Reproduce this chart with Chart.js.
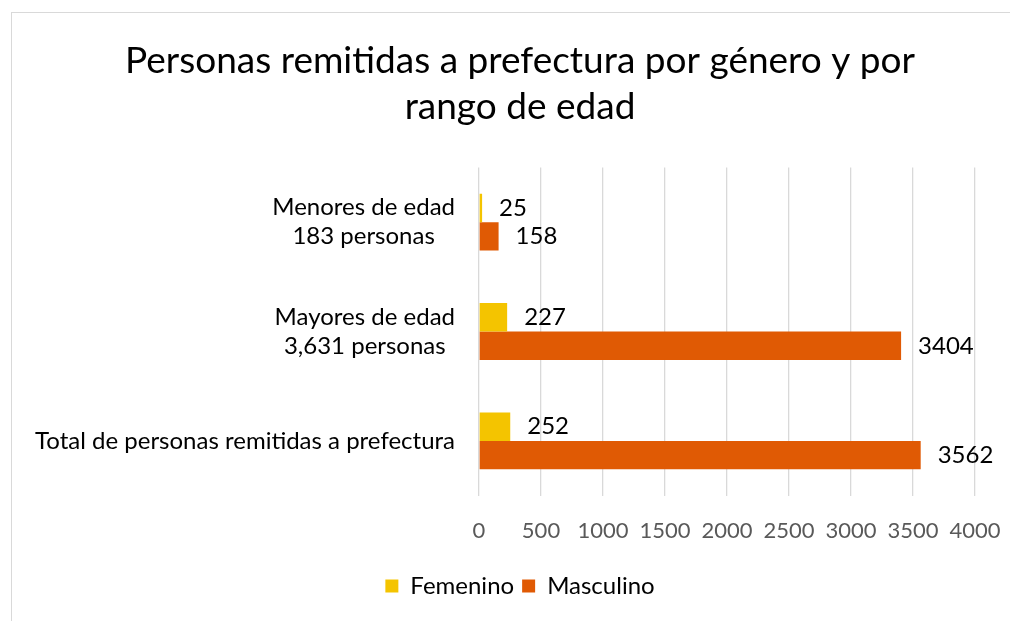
<!DOCTYPE html>
<html>
<head>
<meta charset="utf-8">
<script src="https://cdn.jsdelivr.net/npm/chart.js@4/dist/chart.umd.min.js"></script>
<style>
    body { margin: 0; background: #fff; }
    #wrap { position: relative; width: 1010px; height: 621px; overflow: hidden; }
    #frame { position: absolute; left: 11px; top: 12px; width: 1100px; height: 700px;
             border-left: 1.5px solid #d9d9d9; border-top: 1.5px solid #d9d9d9; }
    canvas { position: absolute; left: 0; top: 0; }
</style>
</head>
<body>
<div id="wrap">
    <div id="frame"></div>
    <canvas id="statsChart" width="1010" height="621"></canvas>
</div>
<script>
const categories = [
    ['Menores de edad', '183 personas'],
    ['Mayores de edad', '3,631 personas'],
    ['Total de personas remitidas a prefectura']
];
const femenino = [25, 227, 252];
const masculino = [158, 3404, 3562];
const xTicks = [0, 500, 1000, 1500, 2000, 2500, 3000, 3500, 4000];

const FONT = 'Lato, "Open Sans", sans-serif';

// Category labels: each label's lines centred on each other, block right-aligned
const categoryLabels = {
    id: 'categoryLabels',
    afterDraw(chart) {
        const ctx = chart.ctx;
        const yScale = chart.scales.y;
        const right = chart.chartArea.left - 24;
        ctx.save();
        ctx.font = '24px ' + FONT;
        ctx.fillStyle = '#000';
        ctx.textAlign = 'center';
        ctx.textBaseline = 'middle';
        categories.forEach((lines, i) => {
            const cy = yScale.getPixelForValue(i);
            const maxW = Math.max(...lines.map(l => ctx.measureText(l).width));
            const cx = right - maxW / 2;
            const lh = 29;
            const top = cy - (lines.length - 1) * lh / 2;
            lines.forEach((l, j) => ctx.fillText(l, cx, top + j * lh));
        });
        ctx.restore();
    }
};

// Value labels at the end of each bar
const valueLabels = {
    id: 'valueLabels',
    afterDatasetsDraw(chart) {
        const ctx = chart.ctx;
        ctx.save();
        ctx.font = '24px ' + FONT;
        ctx.fillStyle = '#000';
        ctx.textAlign = 'left';
        ctx.textBaseline = 'middle';
        chart.data.datasets.forEach((ds, di) => {
            chart.getDatasetMeta(di).data.forEach((bar, i) => {
                ctx.fillText(String(ds.data[i]), bar.x + 17, bar.y);
            });
        });
        ctx.restore();
    }
};

new Chart(document.getElementById('statsChart'), {
    type: 'bar',
    data: {
        labels: categories,
        datasets: [
            { label: 'Femenino', data: femenino, backgroundColor: '#F4C400' },
            { label: 'Masculino', data: masculino, backgroundColor: '#E05A04' }
        ]
    },
    options: {
        indexAxis: 'y',
        responsive: false,
        animation: false,
        events: [],
        layout: { padding: { left: 30, right: 0, top: 12, bottom: 13 } },
        datasets: { bar: { barPercentage: 1, categoryPercentage: 0.52 } },
        scales: {
            x: {
                min: 0,
                max: 4000,
                afterBuildTicks(scale) {
                    scale.ticks = xTicks.map(v => ({ value: v }));
                },
                afterFit(scale) { scale.paddingRight = 35; },
                grid: { color: '#d9d9d9', lineWidth: 1.3, drawTicks: false },
                border: { display: false },
                ticks: {
                    padding: 22,
                    color: '#595959',
                    font: { family: FONT, size: 22 },
                    callback: v => String(v)
                }
            },
            y: {
                grid: { display: false },
                border: { display: false },
                ticks: { display: false },
                afterFit(scale) { scale.width = 449; }
            }
        },
        plugins: {
            title: {
                display: true,
                text: ['Personas remitidas a prefectura por género y por', 'rango de edad'],
                color: '#000',
                font: { family: FONT, size: 37, weight: 'normal', lineHeight: 1.25 },
                padding: { top: 26, bottom: 37 }
            },
            legend: {
                position: 'bottom',
                labels: {
                    boxWidth: 13,
                    boxHeight: 13,
                    padding: 8,
                    color: '#000',
                    font: { family: FONT, size: 24 }
                }
            },
            tooltip: { enabled: false }
        }
    },
    plugins: [categoryLabels, valueLabels]
});
</script>
</body>
</html>
